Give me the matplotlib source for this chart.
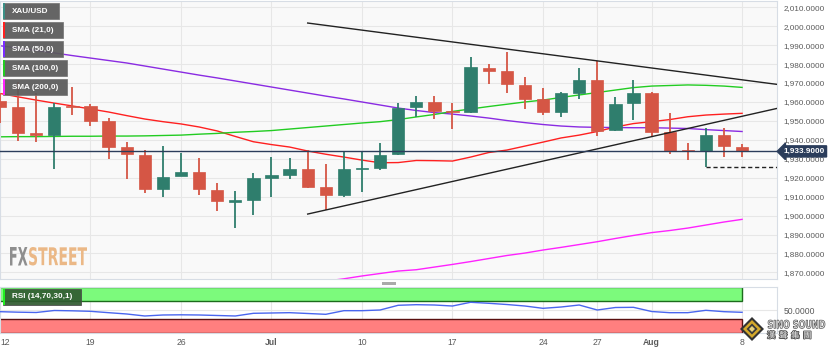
import numpy as np
import matplotlib
matplotlib.use("Agg")
import matplotlib.pyplot as plt
from matplotlib.patches import Rectangle, Polygon, PathPatch
from matplotlib.textpath import TextPath
from matplotlib.font_manager import FontProperties
from matplotlib.transforms import Affine2D
import matplotlib.patheffects as pe
from matplotlib.ticker import FuncFormatter

# XAU/USD daily candles, 12 Jun - 8 Aug (index = trading day)
opens = [1960.7, 1957.5, 1943.8, 1942.4, 1958.0, 1957.9, 1949.8, 1936.2, 1932.0, 1913.9,
         1920.9, 1923.2, 1913.5, 1907.4, 1908.2, 1920.0, 1921.6, 1924.4, 1914.9, 1910.8,
         1924.6, 1925.3, 1932.3, 1957.5, 1960.1, 1955.4, 1954.8, 1978.1, 1976.4, 1969.0,
         1961.4, 1954.5, 1964.6, 1971.6, 1945.2, 1959.3, 1964.6, 1944.3, 1934.4, 1934.1,
         1942.5, 1936.4]
highs = [1965.0, 1970.7, 1964.9, 1959.6, 1967.7, 1958.8, 1951.4, 1939.0, 1934.6, 1936.9,
         1932.9, 1930.2, 1917.0, 1913.1, 1922.6, 1930.8, 1930.2, 1934.5, 1927.2, 1934.2,
         1934.2, 1938.2, 1959.3, 1963.1, 1963.1, 1959.3, 1983.9, 1980.0, 1986.5, 1973.3,
         1967.2, 1965.3, 1977.8, 1981.6, 1962.8, 1971.6, 1965.4, 1954.3, 1938.5, 1946.4,
         1946.1, 1937.8]
lows = [1949.0, 1939.5, 1939.0, 1924.4, 1953.1, 1947.3, 1929.7, 1919.1, 1912.0, 1910.0,
        1920.8, 1910.8, 1902.6, 1893.3, 1900.3, 1910.0, 1919.5, 1914.4, 1902.9, 1909.6,
        1912.6, 1924.0, 1932.0, 1952.2, 1950.8, 1945.6, 1954.3, 1969.3, 1964.9, 1956.1,
        1953.0, 1951.9, 1961.4, 1942.0, 1944.5, 1950.5, 1941.3, 1932.5, 1929.3, 1925.8,
        1931.1, 1930.8]
closes = [1957.5, 1943.8, 1942.5, 1957.5, 1957.4, 1949.8, 1936.4, 1932.4, 1913.9, 1920.5,
          1923.2, 1913.9, 1907.5, 1908.2, 1919.7, 1921.3, 1924.4, 1915.2, 1910.8, 1924.6,
          1925.2, 1932.0, 1957.0, 1960.1, 1955.2, 1954.8, 1978.3, 1976.4, 1969.3, 1961.4,
          1954.5, 1964.6, 1971.6, 1944.8, 1959.1, 1964.6, 1944.3, 1934.2, 1934.0, 1942.5,
          1936.7, 1933.9]

sma21 = [1964.5, 1962.7, 1961.0, 1959.4, 1957.9, 1956.3, 1954.7, 1952.8, 1951.0, 1949.6,
         1948.4, 1946.8, 1944.7, 1941.8, 1939.0, 1937.5, 1936.2, 1934.1, 1932.4, 1930.9,
         1929.3, 1927.9, 1928.0, 1929.1, 1929.0, 1928.8, 1930.9, 1933.3, 1934.6, 1936.7,
         1938.8, 1941.0, 1942.5, 1944.4, 1946.8, 1948.6, 1949.6, 1950.7, 1952.2, 1953.1,
         1953.6, 1954.0]
sma50 = [1989.7, 1988.5, 1987.2, 1985.9, 1984.5, 1983.2, 1981.9, 1980.6, 1979.0, 1977.4,
         1975.8, 1974.2, 1972.7, 1971.1, 1969.5, 1967.9, 1966.3, 1964.7, 1963.1, 1961.6,
         1960.0, 1958.4, 1956.8, 1955.5, 1954.4, 1953.6, 1952.6, 1951.5, 1950.2, 1949.1,
         1948.1, 1947.3, 1946.8, 1946.6, 1946.5, 1946.4, 1946.4, 1946.2, 1946.0, 1945.4,
         1944.9, 1944.4]
sma100 = [1941.6, 1941.7, 1941.7, 1941.8, 1941.9, 1941.9, 1942.0, 1942.0, 1942.1, 1942.3,
          1942.5, 1943.0, 1943.4, 1944.0, 1944.4, 1944.9, 1945.7, 1946.5, 1947.3, 1948.1,
          1948.9, 1949.6, 1950.7, 1952.1, 1953.4, 1955.0, 1956.3, 1957.6, 1958.8, 1960.0,
          1961.0, 1962.4, 1963.7, 1965.0, 1966.3, 1967.6, 1968.4, 1968.7, 1969.0, 1968.8,
          1968.4, 1967.7]
# first part of the 200 SMA sits below the visible range
sma200 = [np.nan] * 17 + [1864.1, 1865.4, 1866.6, 1868.1, 1869.4, 1870.7, 1871.4, 1872.8,
                          1874.2, 1875.7, 1877.3, 1878.9, 1880.2, 1881.8, 1883.2, 1884.7,
                          1886.2, 1887.9, 1889.5, 1891.0, 1892.1, 1893.4, 1895.0, 1896.6,
                          1898.0]
rsi = [46.3, 45.2, 44.5, 48.9, 48.2, 47.1, 44.1, 41.2, 36.8, 39.0,
       39.4, 39.0, 37.9, 36.8, 42.7, 43.4, 44.1, 42.3, 40.5, 48.5,
       48.5, 50.0, 60.4, 61.7, 61.0, 58.8, 67.0, 64.8, 62.1, 58.8,
       53.7, 56.6, 61.0, 50.0, 55.5, 55.9, 46.7, 44.1, 44.1, 49.3,
       46.3, 44.9]

# trend lines (index, price)
upper_line = ([17, 42.93], [2001.7, 1969.3])
lower_line = ([17, 42.93], [1900.8, 1956.6])

tick_pos = [0, 5, 10, 15, 20, 25, 30, 33, 36, 41]
tick_lab = ["12", "19", "26", "Jul", "10", "17", "24", "27", "Aug", "8"]
price_ticks = list(range(1870, 2011, 10))

W, H = 836, 351
GREEN = "#2f7e6d"
RED = "#d55645"
GRID = "#e7e7e7"
TXT = "#5a5a5a"
FS = 5.9

plt.rcParams['font.family'] = ['Liberation Sans', 'DejaVu Sans']

fig = plt.figure(figsize=(W / 100, H / 100), dpi=100)
fig.patch.set_facecolor("white")


def fx(x):
    return x / W


def fy(y):
    return 1 - y / H


def boxed_text(s, x0, x1, ytop, ybot, color, ec="none", lw=0.0, z=2):
    # text squeezed into a pixel box (for logo-like lettering)
    tp = TextPath((0, 0), s, size=10, prop=FontProperties(family="DejaVu Sans", weight="bold"))
    ext = tp.get_extents()
    tr = (Affine2D().translate(-ext.x0, -ext.y0)
          .scale((x1 - x0) / ext.width / W, (ybot - ytop) / ext.height / H)
          .translate(fx(x0), fy(ybot)) + fig.transFigure)
    fig.add_artist(PathPatch(tp, transform=tr, fc=color, ec=ec, lw=lw, zorder=z))


ax = fig.add_axes([0, fy(279), 777 / W, 278.5 / H])
ax_rsi = fig.add_axes([0, fy(333), 777 / W, 46 / H])

n = len(closes)
idx = np.arange(n)
o = np.array(opens)
c = np.array(closes)
up = c >= o
cols = [GREEN if u else RED for u in up]

ax.set_facecolor("#f9f9f9")
ax.vlines(idx, lows, highs, colors=cols, linewidth=1.3, zorder=3)
bottoms = np.minimum(o, c)
heights = np.maximum(np.abs(c - o), 0.35)
ax.bar(idx, heights, bottom=bottoms, width=0.68, color=cols,
       edgecolor=cols, linewidth=0.5, zorder=4)

ax.plot(idx, sma21, color="#ff2020", lw=1.0, zorder=2)
ax.plot(idx, sma50, color="#8a2be2", lw=1.0, zorder=2)
ax.plot(idx, sma100, color="#22cc22", lw=1.0, zorder=2)
ax.plot(idx, sma200, color="#ff22ff", lw=1.0, zorder=2)

ax.plot(upper_line[0], upper_line[1], color="#222222", lw=1.0, zorder=5)
ax.plot(lower_line[0], lower_line[1], color="#222222", lw=1.0, zorder=5)

ax.axhline(closes[-1], color="#2b3d5b", lw=1.0, zorder=5)
ax.hlines(lows[39], 39, 42.93, colors="#222222", linestyles=(0, (3, 2)), lw=1.0, zorder=5)

ax.set_xlim(0, 42.93)
ax.set_ylim(1866.5, 2013.6)
ax.set_xticks(tick_pos)
ax.set_yticks(price_ticks)
ax.yaxis.tick_right()
ax.yaxis.set_major_formatter(FuncFormatter(lambda v, p: f"{v:,.4f}"))
ax.tick_params(axis="y", length=0, pad=4.5, labelsize=FS, labelcolor=TXT)
ax.tick_params(axis="x", length=0, labelbottom=False)
ax.grid(True, color=GRID, lw=0.8)
ax.set_axisbelow(True)
for s in ax.spines.values():
    s.set_color("#d7dde5")

# last price tag
ax.annotate(f"{closes[-1]:,.4f}", xy=(1.0, closes[-1]), xycoords=ax.get_yaxis_transform(),
            xytext=(4.5, 0), textcoords="offset points", va="center", ha="left",
            fontsize=FS, color="white", fontweight="bold",
            bbox=dict(boxstyle="larrow,pad=0.25", fc="#2b3d5b", ec="#2b3d5b"),
            annotation_clip=False, zorder=10)

# RSI panel
ax_rsi.set_facecolor("white")
ax_rsi.add_patch(Rectangle((-1, 70), 42, 30, fc="#7cfa7c", ec="#1c6b1c", lw=1.0, zorder=2))
ax_rsi.add_patch(Rectangle((-1, 0), 42, 30, fc="#ff7f7f", ec="#5a1010", lw=1.0, zorder=2))
ax_rsi.plot(idx, rsi, color="#4a66ee", lw=1.0, zorder=3)
ax_rsi.set_xlim(0, 42.93)
ax_rsi.set_ylim(-0.7, 100.7)
ax_rsi.set_yticks([50])
ax_rsi.yaxis.tick_right()
ax_rsi.yaxis.set_major_formatter(FuncFormatter(lambda v, p: f"{v:,.4f}"))
ax_rsi.set_xticks(tick_pos)
ax_rsi.set_xticklabels(tick_lab)
ax_rsi.tick_params(axis="both", length=0, labelsize=FS + 0.3, labelcolor=TXT)
ax_rsi.tick_params(axis="x", pad=3.5)
ax_rsi.tick_params(axis="y", pad=4.5)
ax_rsi.grid(True, color=GRID, lw=0.8)
ax_rsi.set_axisbelow(True)
for s in ax_rsi.spines.values():
    s.set_color("#d7dde5")
labs = ax_rsi.get_xticklabels()
labs[0].set_ha("left")
for lab in labs:
    if lab.get_text() in ("Jul", "Aug"):
        lab.set_fontweight("bold")

# legend boxes
legend = [("XAU/USD", "#3b8f86", 56), ("SMA (21,0)", "#ff2020", 60),
          ("SMA (50,0)", "#7a2cff", 60), ("SMA (100,0)", "#22cc22", 64),
          ("SMA (200,0)", "#ff22ff", 64)]
for k, (name, colr, w) in enumerate(legend):
    y0 = 3.3 + 19 * k
    fig.add_artist(Rectangle((fx(2.7), fy(y0 + 15.5)), w / W, 15.5 / H,
                             transform=fig.transFigure, fc="#5a5a5a", ec="#777777",
                             lw=0.6, alpha=0.93, zorder=20))
    fig.add_artist(Rectangle((fx(2.7), fy(y0 + 15.5)), 2 / W, 15.5 / H,
                             transform=fig.transFigure, fc=colr, ec="none", zorder=21))
    fig.text(fx(11.5), fy(y0 + 7.9), name, color="white", fontsize=5.9, fontweight="bold",
             va="center", ha="left", zorder=22)

fig.add_artist(Rectangle((fx(3), fy(305)), 78 / W, 16 / H, transform=fig.transFigure,
                         fc="#305a30", ec="#4a4a4a", lw=0.6, alpha=0.92, zorder=20))
fig.add_artist(Rectangle((fx(3), fy(305)), 2 / W, 16 / H, transform=fig.transFigure,
                         fc="#22ee22", ec="none", zorder=21))
fig.text(fx(11.5), fy(297), "RSI (14,70,30,1)", color="white", fontsize=5.9,
         fontweight="bold", va="center", ha="left", zorder=22)

# panel divider handle
fig.add_artist(Rectangle((fx(382), fy(284.5)), 14 / W, 2.5 / H, transform=fig.transFigure,
                         fc="#aaaaaa", ec="none", zorder=20))

# FXStreet watermark
boxed_text("FX", 10, 27.5, 247, 265.5, "#8e8e8e", z=1)
boxed_text("STREET", 29, 87, 247, 265.5, "#ebb886", z=1)

# Sino Sound logo
cx, cy = 752, 329
for r, colr in [(12, "#333333"), (9, "#d4a82a"), (5.5, "#3a3a3a"), (3, "#e8d27a")]:
    fig.add_artist(Polygon([(fx(cx - r), fy(cy)), (fx(cx), fy(cy - r)),
                            (fx(cx + r), fy(cy)), (fx(cx), fy(cy + r))],
                           closed=True, transform=fig.transFigure, fc=colr, ec="none",
                           zorder=30))
boxed_text("SINO SOUND", 768, 825, 320, 328.5, "#eeeeee", ec="#555555", lw=0.5, z=31)
stroke = [pe.withStroke(linewidth=1.2, foreground="#555555")]
fig.text(fx(767), fy(335.5), "漢  聲  集  團", color="#eeeeee", fontsize=6,
         family=["Noto Sans CJK TC", "DejaVu Sans"], va="center", ha="left",
         path_effects=stroke, zorder=31)

fig.savefig("out.png", dpi=100)
